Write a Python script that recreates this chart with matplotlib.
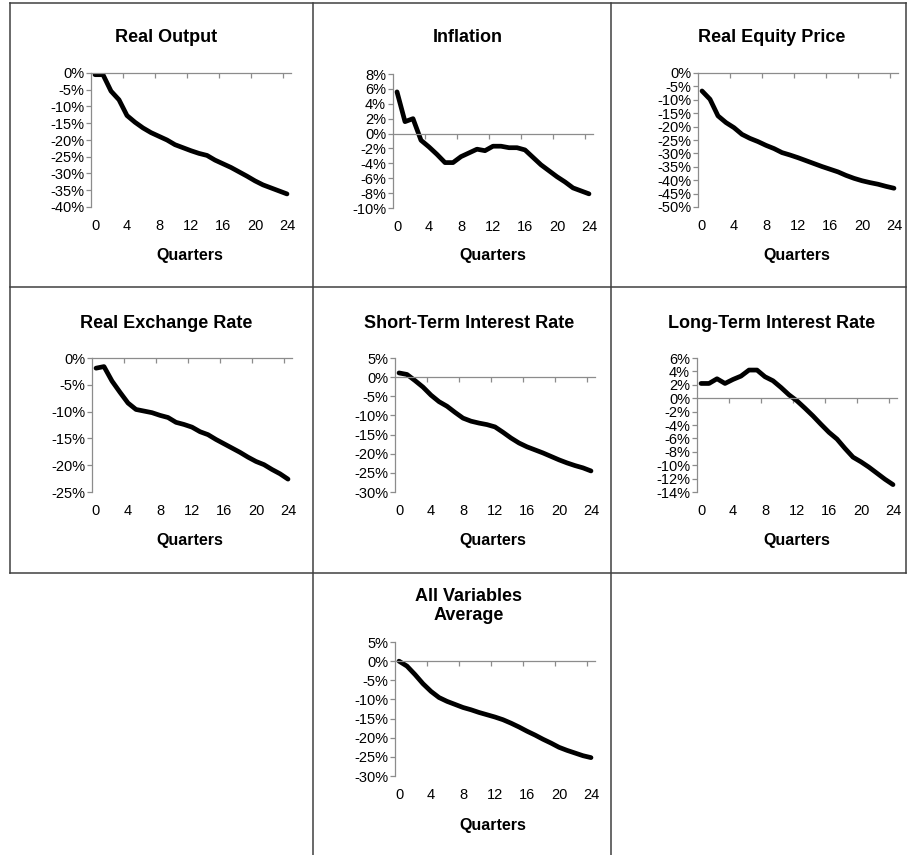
import numpy as np
import matplotlib
matplotlib.use("Agg")
import matplotlib.pyplot as plt
from matplotlib.lines import Line2D
from matplotlib.ticker import FuncFormatter

plt.rcParams['font.family'] = ['Liberation Sans', 'DejaVu Sans']

quarters = list(range(25))

real_output = [-0.5, -0.5, -5.4, -8.0, -12.7, -14.7, -16.4, -17.8, -18.9, -20.0,
               -21.4, -22.3, -23.2, -24.0, -24.6, -26.0, -27.1, -28.2, -29.5, -30.8,
               -32.2, -33.4, -34.3, -35.2, -36.1]
inflation = [5.6, 1.6, 2.0, -0.9, -1.8, -2.8, -3.9, -3.9, -3.1, -2.6,
             -2.1, -2.3, -1.7, -1.7, -1.9, -1.9, -2.2, -3.2, -4.2, -5.0,
             -5.8, -6.5, -7.3, -7.7, -8.1]
equity_price = [-6.7, -9.8, -16.0, -18.5, -20.4, -22.9, -24.4, -25.6, -27.0, -28.2,
                -29.7, -30.6, -31.6, -32.7, -33.8, -34.9, -35.9, -36.9, -38.2, -39.3,
                -40.2, -40.9, -41.5, -42.3, -43.0]
exchange_rate = [-1.9, -1.6, -4.3, -6.4, -8.4, -9.6, -9.9, -10.2, -10.7, -11.1,
                 -12.0, -12.4, -12.9, -13.75, -14.3, -15.2, -16.0, -16.8, -17.6, -18.5,
                 -19.3, -19.9, -20.8, -21.6, -22.6]
short_rate = [1.1, 0.7, -0.9, -2.6, -4.7, -6.4, -7.6, -9.2, -10.7, -11.5,
              -12.0, -12.4, -13.0, -14.4, -15.9, -17.2, -18.2, -19.0, -19.8, -20.7,
              -21.6, -22.4, -23.1, -23.7, -24.5]
long_rate = [2.2, 2.2, 2.9, 2.2, 2.8, 3.3, 4.2, 4.2, 3.2, 2.6,
             1.6, 0.5, -0.4, -1.5, -2.65, -3.9, -5.1, -6.1, -7.5, -8.8,
             -9.5, -10.3, -11.2, -12.1, -12.9]
all_average = [0.0, -1.3, -3.5, -5.9, -7.9, -9.5, -10.5, -11.3, -12.1, -12.7,
               -13.4, -14.0, -14.6, -15.3, -16.2, -17.2, -18.3, -19.3, -20.4, -21.4,
               -22.5, -23.3, -24.0, -24.7, -25.2]

titles = ["Real Output", "Inflation", "Real Equity Price",
          "Real Exchange Rate", "Short-Term Interest Rate", "Long-Term Interest Rate",
          "All Variables\nAverage"]
series = [real_output, inflation, equity_price, exchange_rate, short_rate, long_rate, all_average]
y_ranges = [(-40, 0, 5), (-10, 8, 2), (-50, 0, 5), (-25, 0, 5), (-30, 5, 5), (-14, 6, 2), (-30, 5, 5)]

W, H = 908, 855
fig = plt.figure(figsize=(W / 100, H / 100), dpi=100)

# panel geometry in pixels: axes left, top; title centre; xlabel centre
axes_px = [(91, 73), (393, 74), (698, 73), (92, 358), (395, 358), (697, 358), (395, 642)]
title_px = [(166, 38), (468, 38), (772, 38), (166, 323), (469, 323), (772, 323), (469, 606)]
xlabel_px = [(190, 255), (493, 255), (797, 255), (190, 540), (493, 540), (797, 540), (493, 825)]
ax_w, ax_h = 200, 134
grey = '#8c8c8c'

for i in range(7):
    left, top = axes_px[i]
    ax = fig.add_axes([left / W, 1 - (top + ax_h) / H, ax_w / W, ax_h / H])
    ax.patch.set_alpha(0)
    ax.plot(quarters, series[i], color='black', lw=3.4,
            solid_joinstyle='round', solid_capstyle='round')
    lo, hi, step = y_ranges[i]
    ax.set_ylim(lo, hi)
    ax.set_yticks(np.arange(lo, hi + step / 2, step))
    ax.yaxis.set_major_formatter(FuncFormatter(lambda v, p: f"{v:.0f}%"))
    ax.set_xlim(-0.5, 24.5)
    ax.set_xticks(range(0, 25, 4))
    ax.set_xticks(np.arange(3.5, 24, 4), minor=True)

    ax.spines['right'].set_visible(False)
    ax.spines['bottom'].set_visible(False)
    ax.spines['top'].set_position(('data', 0))
    for s in ['left', 'top']:
        ax.spines[s].set_color(grey)
        ax.spines[s].set_linewidth(0.9)

    ax.tick_params(axis='x', which='major', bottom=False, top=False,
                   labelbottom=True, labeltop=False, pad=5, labelsize=10.5)
    ax.tick_params(axis='x', which='minor', bottom=False, top=True,
                   direction='in', length=3.5, width=0.9, color=grey)
    ax.tick_params(axis='y', which='major', direction='out', length=3.5,
                   width=0.9, color=grey, pad=1.5, labelsize=10.5)

    tx, ty = title_px[i]
    fig.text(tx / W, 1 - ty / H, titles[i], ha='center', va='center',
             fontsize=13, fontweight='bold', linespacing=1.15)
    lx, ly = xlabel_px[i]
    fig.text(lx / W, 1 - ly / H, "Quarters", ha='center', va='center',
             fontsize=11.5, fontweight='bold')

# panel frame lines
frame = '#404040'
def seg(x0, y0, x1, y1):
    fig.add_artist(Line2D([x0 / W, x1 / W], [1 - y0 / H, 1 - y1 / H],
                          color=frame, lw=1.1))

seg(10, 3, 906, 3)
seg(10, 287, 906, 287)
seg(10, 573, 906, 573)
seg(10, 3, 10, 573)
seg(906, 3, 906, 573)
seg(313, 3, 313, 855)
seg(611, 3, 611, 855)

fig.savefig("out.png", dpi=100)
